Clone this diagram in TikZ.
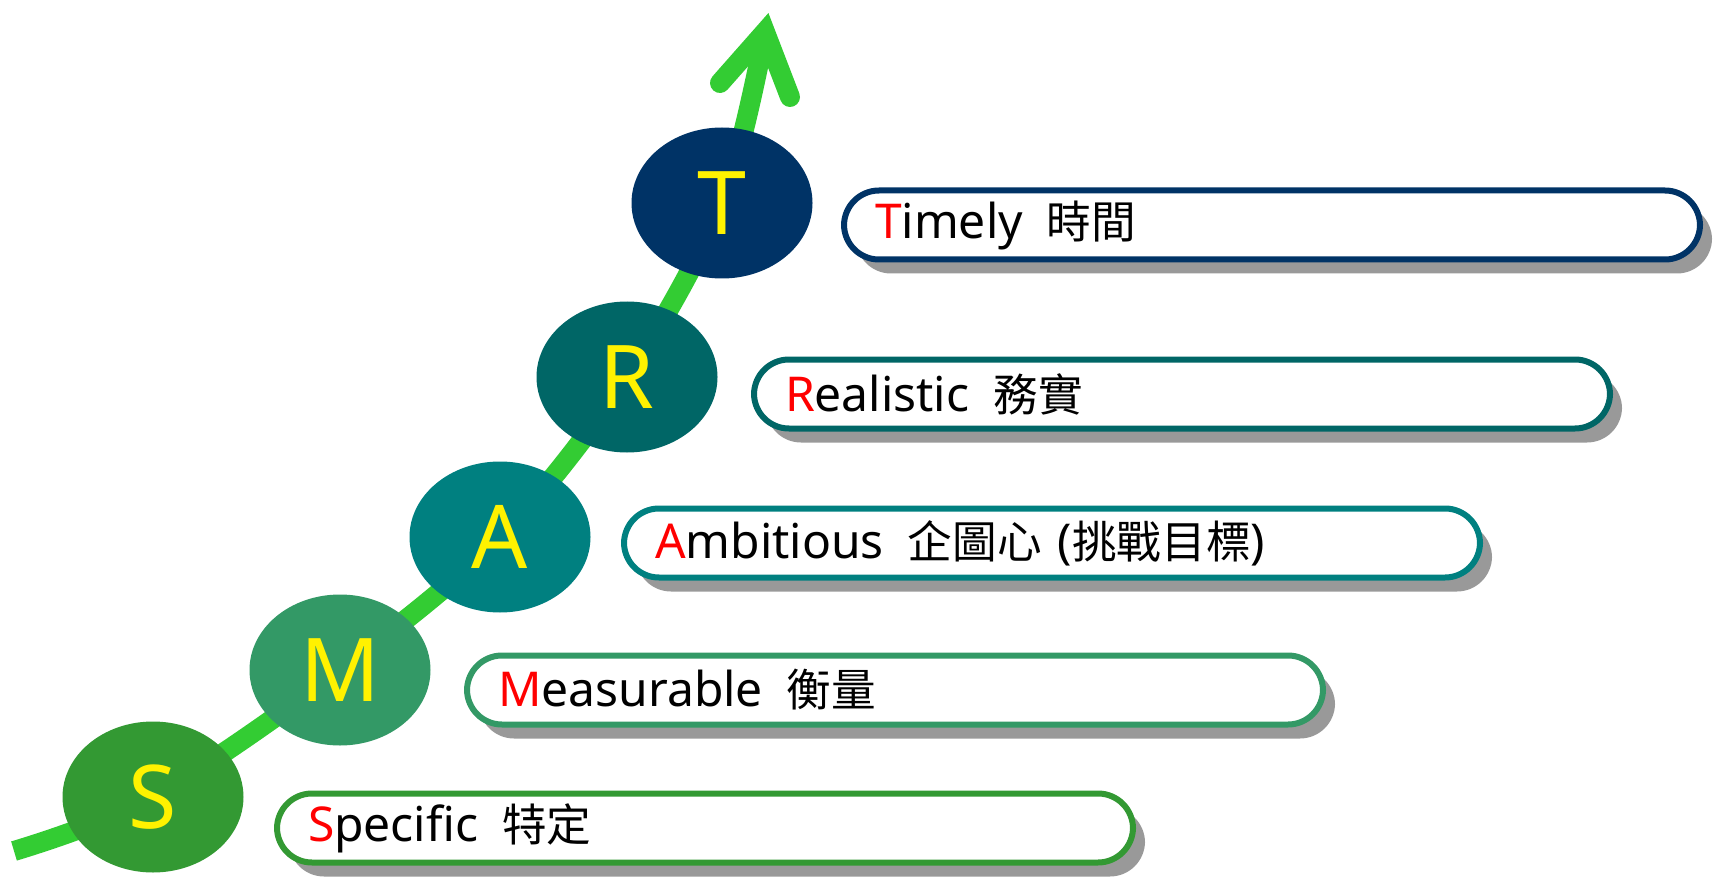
\documentclass[tikz,border=0pt]{standalone}
\usepackage{fontspec}
\setmainfont{Noto Sans}
\newfontfamily\cjk[Scale=0.93]{Noto Sans CJK TC}
\usepackage{tikz}
\usetikzlibrary{shapes.geometric,shadows,backgrounds}
\definecolor{colS}{HTML}{339933}
\definecolor{colM}{HTML}{339966}
\definecolor{colA}{HTML}{008080}
\definecolor{colR}{HTML}{006666}
\definecolor{colT}{HTML}{003366}
\definecolor{growth}{HTML}{33CC33}
\tikzset{
  letter/.style={ellipse, fill=#1, minimum width=181pt, minimum height=151pt,
    inner sep=0pt, text=yellow, font=\fontsize{88}{100}\selectfont},
  goal/.style={draw=#1, line width=6pt, fill=white, rounded corners=35pt,
    minimum height=69pt, text width=794pt, inner xsep=31pt, inner ysep=0pt,
    align=left, font=\fontsize{48}{58}\selectfont,
    drop shadow={shadow xshift=12pt, shadow yshift=-14pt, fill=black!40, opacity=1}},
  growline/.style={draw=growth, line width=20pt},
}
\newcommand{\first}[1]{\textcolor{red}{#1}}

\begin{document}
\begin{tikzpicture}[x=1pt, y=-1pt]
    \useasboundingbox (0,0) rectangle (1721,877);

    % letters along the curve
    \node[letter=colS] (S) at (153,797) {S};
    \node[letter=colM] (M) at (340,670) {M};
    \node[letter=colA] (A) at (500,537) {A};
    \node[letter=colR] (R) at (627,377) {R};
    \node[letter=colT] (T) at (722,203) {T};

    % meaning of each letter
    \node[goal=colS] (Sbox) at (705,828) {\first{S}pecific\hspace{0.5em}{\cjk 特定}};
    \node[goal=colM] (Mbox) at (895,690) {\first{M}easurable\hspace{0.5em}{\cjk 衡量}};
    \node[goal=colA] (Abox) at (1052,543) {\first{A}mbitious\hspace{0.5em}{\cjk 企圖心} ({\cjk 挑戰目標})};
    \node[goal=colR] (Rbox) at (1182,394) {\first{R}ealistic\hspace{0.5em}{\cjk 務實}};
    \node[goal=colT] (Tbox) at (1272,225) {\first{T}imely\hspace{0.5em}{\cjk 時間}};

    \coordinate (start) at (14,851);
    \coordinate (head) at (765,32);

    \begin{pgfonlayer}{background}
    \draw[growline] plot[smooth, tension=0.55] coordinates
        {(start) (S.center) (M.center) (A.center) (R.center) (T.center) (head)};
    \draw[growline, line cap=round, line join=miter]
        ([shift={(-45,51)}]head) -- (head) -- ([shift={(25,65)}]head);
    \end{pgfonlayer}
\end{tikzpicture}
\end{document}
